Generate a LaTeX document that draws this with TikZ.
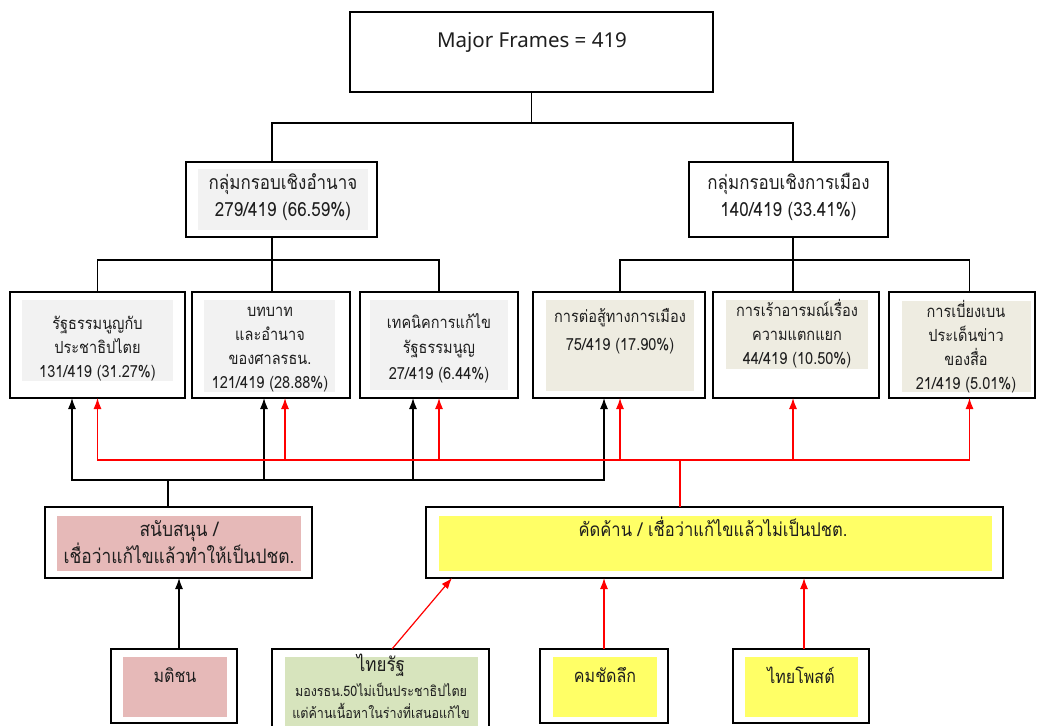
\documentclass[tikz,border=0pt]{standalone}
\usepackage{fontspec}
\setmainfont{Noto Sans}
\newfontfamily\thai[Script=Thai,FakeStretch=0.87]{Loma}
\usetikzlibrary{arrows.meta}
\definecolor{greyf}{HTML}{F2F2F2}
\definecolor{beigef}{HTML}{EEECE1}
\definecolor{pinkf}{HTML}{E6B9B8}
\definecolor{yellowf}{HTML}{FFFF66}
\definecolor{greenf}{HTML}{D7E4BD}
\definecolor{txtc}{HTML}{1E1E1E}
\definecolor{redc}{HTML}{FF0000}
\newcommand\rbox[6]{\node[#1,minimum width={(#5)-(#3)},minimum height={(#6)-(#4)}] (#2) at ({((#3)+(#5))/2},{((#4)+(#6))/2}) {};}
\tikzset{
  outer/.style={draw=black,line width=1.4pt,inner sep=0pt,outer sep=0pt,fill=white},
  infill/.style={draw=none,inner sep=0pt,outer sep=0pt,fill=#1},
  txt/.style={align=center,inner sep=0pt,text=txtc,font=\thai\fontsize{16.7}{24}\selectfont},
  conn/.style={draw=black,line width=1.2pt},
  blkarr/.style={draw=black,line width=1.2pt,-{Latex[length=11pt,width=8pt]}},
  redln/.style={draw=redc,line width=1.2pt},
  redarr/.style={draw=redc,line width=1.2pt,-{Latex[length=11pt,width=8pt]}}
}
\begin{document}
\begin{tikzpicture}[x=1pt,y=-1pt]
\useasboundingbox (0,0) rectangle (1038,725);
% ---- boxes
\rbox{outer}{top}{350}{12}{713}{92}
\rbox{outer}{l2a}{186}{162}{377}{237}
\rbox{infill=greyf}{l2ain}{198}{169}{368}{230}
\rbox{outer}{l2b}{689}{162}{888}{237}
\rbox{outer}{b1}{10}{292}{185}{398}
\rbox{infill=greyf}{b1in}{22}{300}{173}{381}
\rbox{outer}{b2}{192}{292}{350}{398}
\rbox{infill=greyf}{b2in}{204}{300}{335}{392}
\rbox{outer}{b3}{360}{292}{518}{398}
\rbox{infill=greyf}{b3in}{370}{300}{508}{390}
\rbox{outer}{b4}{533}{292}{705}{398}
\rbox{infill=beigef}{b4in}{546}{300}{694}{391}
\rbox{outer}{b5}{713}{292}{879}{398}
\rbox{infill=beigef}{b5in}{726}{300}{868}{369}
\rbox{outer}{b6}{889}{292}{1035}{398}
\rbox{infill=beigef}{b6in}{902}{301}{1031}{392}
\rbox{outer}{pink}{45}{507}{312}{578}
\rbox{infill=pinkf}{pinkin}{57}{516}{301}{571}
\rbox{outer}{yel}{426}{507}{1003}{578}
\rbox{infill=yellowf}{yelin}{439}{516}{992}{571}
\rbox{outer}{mat}{111}{649}{237}{723}
\rbox{infill=pinkf}{matin}{123}{657}{227}{717}
\rbox{outer}{tr}{272}{649}{489}{745}
\rbox{infill=greenf}{trin}{285}{657}{478}{745}
\rbox{outer}{kom}{540}{649}{668}{723}
\rbox{infill=yellowf}{komin}{553}{657}{657}{717}
\rbox{outer}{tp}{733}{649}{869}{723}
\rbox{infill=yellowf}{tpin}{745}{657}{858}{717}
% ---- texts
\node[txt,font=\fontsize{20.5}{22}\selectfont] (toptx) at (532,42) {Major Frames = 419};
\node[txt,font=\thai\fontsize{19.5}{27}\selectfont] (l2atx) at (283,197) {กลุ่มกรอบเชิงอำนาจ\\279/419 (66.59\%)};
\node[txt,font=\thai\fontsize{19.5}{27}\selectfont] (l2btx) at (788.5,197) {กลุ่มกรอบเชิงการเมือง\\140/419 (33.41\%)};
\node[txt] (b1tx) at (97.5,349) {รัฐธรรมนูญกับ\\ประชาธิปไตย\\131/419 (31.27\%)};
\node[txt] (b2tx) at (270,350) {บทบาท\\และอำนาจ\\ของศาลรธน.\\121/419 (28.88\%)};
\node[txt,font=\thai\fontsize{16.7}{25.5}\selectfont] (b3tx) at (439,348) {เทคนิคการแก้ไข\\รัฐธรรมนูญ\\27/419 (6.44\%)};
\node[txt,font=\thai\fontsize{16.7}{28}\selectfont] (b4tx) at (620,331) {การต่อสู้ทางการเมือง\\75/419 (17.90\%)};
\node[txt] (b5tx) at (797,334) {การเร้าอารมณ์เรื่อง\\ความแตกแยก\\44/419 (10.50\%)};
\node[txt] (b6tx) at (966,347) {การเบี่ยงเบน\\ประเด็นข่าว\\ของสื่อ\\21/419 (5.01\%)};
\node[txt,font=\thai\fontsize{20}{25}\selectfont] (pinktx) at (179,542) {สนับสนุน /\\เชื่อว่าแก้ไขแล้วทำให้เป็นปชต.};
\node[txt,font=\thai\fontsize{19}{25}\selectfont] (yeltx) at (713,527) {คัดค้าน / เชื่อว่าแก้ไขแล้วไม่เป็นปชต.};
\node[txt,font=\thai\fontsize{18.4}{20}\selectfont] (mattx) at (175,675) {มติชน};
\node[txt,font=\thai\fontsize{19.5}{20}\selectfont] (trtx) at (381,665) {ไทยรัฐ};
\node[txt,font=\thai\fontsize{14.4}{22}\selectfont] (trsub) at (381,701) {มองรธน.50ไม่เป็นประชาธิปไตย\\แต่ค้านเนื้อหาในร่างที่เสนอแก้ไข};
\node[txt,font=\thai\fontsize{18.4}{20}\selectfont] (komtx) at (605,675) {คมชัดลึก};
\node[txt,font=\thai\fontsize{18.4}{20}\selectfont] (tptx) at (801,675) {ไทยโพสต์};
% ---- tree connectors
\coordinate (j1) at (531.5,123);
\draw[conn] (top.south) -- (j1);
\draw[conn] ([xshift=-9.5]l2a.north) |- (j1) -| ([xshift=4.5]l2b.north);
\coordinate (j2) at (272,260);
\draw[conn] ([xshift=-9.5]l2a.south) -- (j2);
\draw[conn] (b1.north) |- (j2) -| (b3.north);
\draw[conn] (j2) -- ([xshift=1]b2.north);
\coordinate (j3) at (793,260);
\draw[conn] ([xshift=4.5]l2b.south) -- (j3);
\draw[conn] ([xshift=1]b4.north) |- (j3) -| ([xshift=7.5]b6.north);
\draw[conn] (j3) -- ([xshift=-3]b5.north);
% ---- support (black) arrows
\coordinate (bj) at (168,480);
\draw[conn] ([xshift=-10.5]pink.north) -- (bj);
\draw[blkarr] (bj) -| ([xshift=-25.5]b1.south);
\draw[blkarr] (bj) -| ([xshift=-7]b2.south);
\draw[blkarr] (bj) -| ([xshift=-26]b3.south);
\draw[blkarr] (bj) -| ([xshift=-15]b4.south);
% ---- oppose (red) arrows
\coordinate (rj) at (680,460);
\draw[redln] ([xshift=-34.5]yel.north) -- (rj);
\draw[redarr] (rj) -| (b1.south);
\draw[redarr] (rj) -| ([xshift=14]b2.south);
\draw[redarr] (rj) -| (b3.south);
\draw[redarr] (rj) -| ([xshift=1]b4.south);
\draw[redarr] (rj) -| ([xshift=-3]b5.south);
\draw[redarr] (rj) -| ([xshift=7.5]b6.south);
% ---- newspaper arrows
\draw[blkarr] ([xshift=5]mat.north) -- ([xshift=5]mat.north |- pink.south);
\draw[redarr] ([xshift=11.5]tr.north) -- ([xshift=26]yel.south west);
\draw[redarr] (kom.north) -- (kom.north |- yel.south);
\draw[redarr] ([xshift=3]tp.north) -- ([xshift=3]tp.north |- yel.south);
\end{tikzpicture}
\end{document}
